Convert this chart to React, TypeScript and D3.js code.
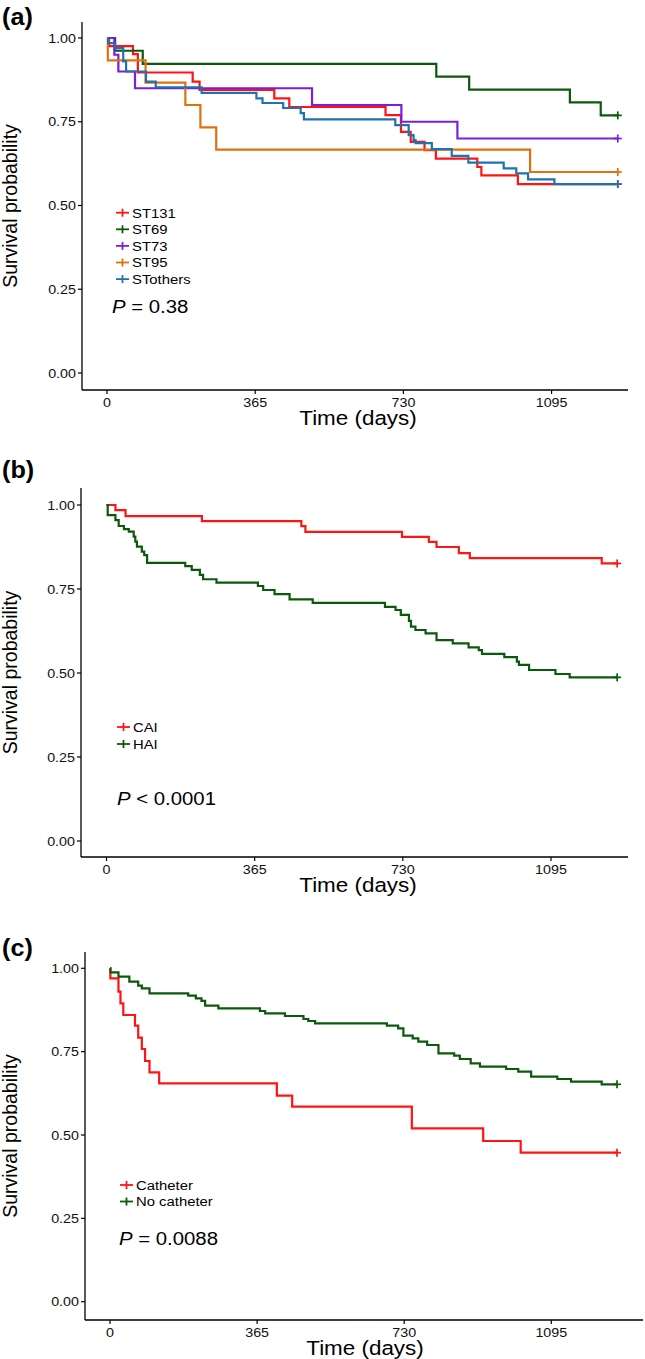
import React from "react";
import * as d3 from "d3";

// ---------- DATA ----------
const xTicks = [0, 365, 730, 1095];
const yTicks = [0, 0.25, 0.5, 0.75, 1];
const yTickLabels = ["0.00", "0.25", "0.50", "0.75", "1.00"];

// Panel (a)
const st131Time = [0, 5, 64, 76, 211, 228, 412, 449, 686, 724, 748, 782, 810, 912, 922, 1012, 1258];
const st131Surv = [1, 0.976, 0.952, 0.897, 0.87, 0.845, 0.82, 0.794, 0.77, 0.72, 0.69, 0.665, 0.64, 0.615, 0.59, 0.564, 0.564];
const st69Time = [0, 20, 88, 811, 892, 1140, 1216, 1258];
const st69Surv = [1, 0.962, 0.923, 0.885, 0.846, 0.808, 0.769, 0.769];
const st73Time = [0, 18, 28, 69, 505, 725, 863, 1258];
const st73Surv = [1, 0.95, 0.9, 0.85, 0.8, 0.75, 0.7, 0.7];
const st95Time = [0, 2, 95, 193, 230, 269, 1042, 1258];
const st95Surv = [1, 0.933, 0.867, 0.8, 0.733, 0.667, 0.6, 0.6];
const stOthersTime = [0, 3, 20, 40, 47, 96, 120, 233, 368, 383, 434, 477, 485, 710, 743, 755, 760, 800, 849, 890, 977, 1008, 1037, 1102, 1258];
const stOthersSurv = [1, 0.985, 0.97, 0.93, 0.9, 0.87, 0.853, 0.836, 0.82, 0.806, 0.791, 0.776, 0.757, 0.74, 0.71, 0.695, 0.686, 0.668, 0.648, 0.628, 0.611, 0.596, 0.578, 0.564, 0.564];

// Panel (b)
const caiTime = [0, 22, 47, 235, 480, 490, 728, 794, 813, 868, 895, 1220, 1258];
const caiSurv = [1, 0.985, 0.967, 0.952, 0.937, 0.92, 0.905, 0.89, 0.875, 0.857, 0.842, 0.826, 0.826];
const haiTime = [0, 3, 22, 30, 43, 55, 67, 71, 75, 87, 93, 100, 194, 210, 230, 238, 271, 373, 386, 414, 451, 508, 686, 712, 725, 745, 750, 761, 786, 813, 853, 892, 917, 925, 980, 1011, 1016, 1041, 1106, 1141, 1258];
const haiSurv = [1, 0.97, 0.955, 0.9375, 0.928, 0.921, 0.906, 0.891, 0.876, 0.861, 0.851, 0.828, 0.818, 0.807, 0.792, 0.779, 0.769, 0.759, 0.747, 0.735, 0.719, 0.709, 0.697, 0.6875, 0.673, 0.655, 0.638, 0.628, 0.618, 0.598, 0.588, 0.576, 0.568, 0.557, 0.547, 0.534, 0.524, 0.509, 0.497, 0.487, 0.487];

// Panel (c)
const catheterTime = [0, 1, 21, 26, 33, 62, 70, 79, 87, 98, 122, 414, 452, 749, 926, 1019, 1258];
const catheterSurv = [1, 0.97, 0.93, 0.895, 0.86, 0.828, 0.792, 0.758, 0.722, 0.688, 0.655, 0.618, 0.585, 0.52, 0.482, 0.447, 0.447];
const noCatheterTime = [0, 1, 21, 48, 70, 79, 98, 194, 213, 227, 236, 269, 372, 385, 434, 480, 492, 509, 687, 715, 728, 751, 765, 787, 815, 854, 868, 895, 918, 983, 1013, 1045, 1110, 1144, 1220, 1258];
const noCatheterSurv = [1, 0.988, 0.975, 0.96, 0.948, 0.94, 0.925, 0.918, 0.91, 0.902, 0.888, 0.88, 0.872, 0.865, 0.857, 0.848, 0.842, 0.835, 0.828, 0.82, 0.798, 0.79, 0.78, 0.77, 0.745, 0.738, 0.728, 0.715, 0.705, 0.698, 0.69, 0.675, 0.668, 0.66, 0.652, 0.652];

const seriesA = [
  { name: "ST131", color: "#ff1414", time: st131Time, surv: st131Surv },
  { name: "ST69", color: "#0b5a0b", time: st69Time, surv: st69Surv },
  { name: "ST73", color: "#7a1ee0", time: st73Time, surv: st73Surv },
  { name: "ST95", color: "#e0700f", time: st95Time, surv: st95Surv },
  { name: "STothers", color: "#1f72b0", time: stOthersTime, surv: stOthersSurv },
];
const seriesB = [
  { name: "CAI", color: "#ff1414", time: caiTime, surv: caiSurv },
  { name: "HAI", color: "#0b5a0b", time: haiTime, surv: haiSurv },
];
const seriesC = [
  { name: "Catheter", color: "#ff1414", time: catheterTime, surv: catheterSurv },
  { name: "No catheter", color: "#0b5a0b", time: noCatheterTime, surv: noCatheterSurv },
];

// ---------- LAYOUT ----------
const FONT = "'Liberation Sans', Arial, Helvetica, sans-serif";

const panels = [
  {
    label: "(a)", labelY: 25, series: seriesA,
    axisX: 82, axisTop: 22, axisY: 390, axisRight: 628,
    x0: 107, x1095: 551.6, y0: 373, y1: 38, titleX: 358,
    legendX: 116, legendY: 212.7, legendDy: 16.6,
    pX: 112, pY: 313, pRest: " = 0.38",
  },
  {
    label: "(b)", labelY: 478, series: seriesB,
    axisX: 81, axisTop: 488, axisY: 857, axisRight: 628,
    x0: 106.5, x1095: 551, y0: 841, y1: 505, titleX: 358,
    legendX: 117, legendY: 727, legendDy: 17,
    pX: 117, pY: 805, pRest: " < 0.0001",
  },
  {
    label: "(c)", labelY: 956, series: seriesC,
    axisX: 85, axisTop: 952, axisY: 1320, axisRight: 643,
    x0: 110, x1095: 551.3, y0: 1301.7, y1: 968.3, titleX: 365,
    legendX: 120, legendY: 1185, legendDy: 16.5,
    pX: 119, pY: 1245, pRest: " = 0.0088",
  },
];

function Panel({ p }: { p: any }) {
  const x = d3.scaleLinear().domain([0, 1095]).range([p.x0, p.x1095]);
  const y = d3.scaleLinear().domain([0, 1]).range([p.y0, p.y1]);
  const line = d3
    .line<[number, number]>()
    .x((d) => x(d[0]))
    .y((d) => y(d[1]))
    .curve(d3.curveStepAfter);

  return (
    <g>
      <text x={2} y={p.labelY} fontFamily={FONT} fontWeight="bold" fontSize={24}
        transform={`translate(2,0) scale(1.05,1) translate(-2,0)`} fill="#000">
        {p.label}
      </text>
      {/* curves */}
      {p.series.map((s: any) => {
        const pts: [number, number][] = s.time.map((t: number, i: number) => [t, s.surv[i]]);
        const last = pts[pts.length - 1];
        const cx = x(last[0]);
        const cy = y(last[1]);
        return (
          <g key={s.name}>
            <path d={line(pts) || ""} fill="none" stroke={s.color} strokeWidth={2.2} strokeLinejoin="miter" />
            <line x1={cx} x2={cx} y1={cy - 4} y2={cy + 4} stroke={s.color} strokeWidth={1.7} />
            <line x1={cx - 4} x2={cx + 4} y1={cy} y2={cy} stroke={s.color} strokeWidth={1.7} />
          </g>
        );
      })}
      {/* axes */}
      <line x1={p.axisX} x2={p.axisX} y1={p.axisTop} y2={p.axisY} stroke="#000" strokeWidth={1.3} />
      <line x1={p.axisX} x2={p.axisRight} y1={p.axisY} y2={p.axisY} stroke="#000" strokeWidth={1.3} />
      {yTicks.map((v, i) => (
        <g key={"y" + v}>
          <line x1={p.axisX - 4} x2={p.axisX} y1={y(v)} y2={y(v)} stroke="#000" strokeWidth={1.2} />
          <text transform={`translate(${p.axisX - 6},${y(v)}) scale(1.1,1)`} dy="0.36em" textAnchor="end"
            fontFamily={FONT} fontSize={13} fill="#111">
            {yTickLabels[i]}
          </text>
        </g>
      ))}
      {xTicks.map((v) => (
        <g key={"x" + v}>
          <line x1={x(v)} x2={x(v)} y1={p.axisY} y2={p.axisY + 4} stroke="#000" strokeWidth={1.2} />
          <text transform={`translate(${x(v)},${p.axisY + 16.9}) scale(1.1,1)`} textAnchor="middle"
            fontFamily={FONT} fontSize={13} fill="#111">
            {v}
          </text>
        </g>
      ))}
      {/* axis titles */}
      <text transform={`translate(${p.titleX},${p.axisY + 35}) scale(1.15,1)`} textAnchor="middle"
        fontFamily={FONT} fontSize={19.5} fill="#000">
        Time (days)
      </text>
      <text transform={`translate(17,${(p.axisTop + p.axisY) / 2}) rotate(-90)`} textAnchor="middle"
        fontFamily={FONT} fontSize={19.5} fill="#000">
        Survival probability
      </text>
      {/* legend */}
      {p.series.map((s: any, i: number) => {
        const ly = p.legendY + i * p.legendDy;
        return (
          <g key={"lg" + s.name}>
            <line x1={p.legendX} x2={p.legendX + 13} y1={ly} y2={ly} stroke={s.color} strokeWidth={1.8} />
            <line x1={p.legendX + 6.5} x2={p.legendX + 6.5} y1={ly - 4} y2={ly + 4} stroke={s.color} strokeWidth={1.8} />
            <text transform={`translate(${p.legendX + 16},${ly}) scale(1.1,1)`} dy="0.36em"
              fontFamily={FONT} fontSize={13.5} fill="#000">
              {s.name}
            </text>
          </g>
        );
      })}
      {/* p value */}
      <text transform={`translate(${p.pX},${p.pY}) scale(1.1,1)`} fontFamily={FONT} fontSize={18.5} fill="#000">
        <tspan fontStyle="italic">P</tspan>
        <tspan>{p.pRest}</tspan>
      </text>
    </g>
  );
}

export default function App() {
  return (
    <svg width={645} height={1359} style={{ position: "absolute", left: 0, top: 0, background: "#fff" }}>
      <rect x={0} y={0} width={645} height={1359} fill="#fff" />
      {panels.map((p) => (
        <Panel key={p.label} p={p} />
      ))}
    </svg>
  );
}
